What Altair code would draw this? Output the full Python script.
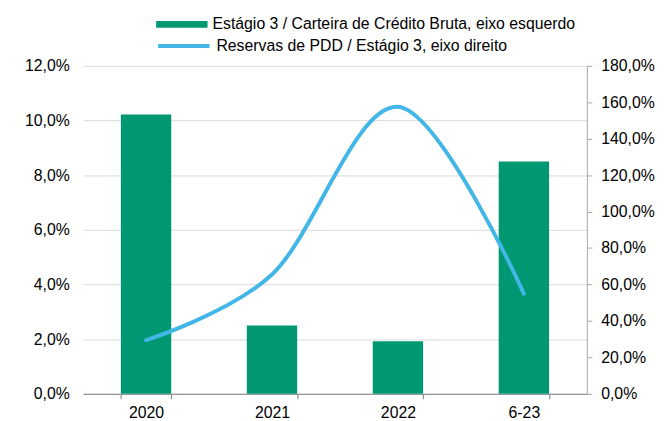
import altair as alt
import pandas as pd

categories = ["2020", "2021", "2022", "6-23"]
stage3_ratio = [10.22, 2.5, 1.92, 8.5]
pdd_coverage = [29.5, 65.5, 157.5, 55.0]

bar_label = "Estágio 3 / Carteira de Crédito Bruta, eixo esquerdo"
line_label = "Reservas de PDD / Estágio 3, eixo direito"

left_ticks = [0, 2, 4, 6, 8, 10, 12]
right_ticks = [0, 20, 40, 60, 80, 100, 120, 140, 160, 180]

df = pd.DataFrame({
    "cat": categories,
    "ratio": stage3_ratio,
    "cov": pdd_coverage,
    "bar_series": [bar_label] * len(categories),
    "line_series": [line_label] * len(categories),
})

FONT = "Liberation Sans"
FS = 16
GREEN = "#009873"
BLUE = "#42B6E6"
fmt = "replace(format(datum.value, '.1f'), '.', ',') + '%'"

x = alt.X(
    "cat:N", sort=categories, title=None,
    scale=alt.Scale(paddingInner=0.6, paddingOuter=0.3),
    axis=alt.Axis(labelAngle=0, tickBand="extent", domainColor="#808080",
                  tickColor="#808080", tickSize=5, labelPadding=6,
                  labelFontSize=FS, labelColor="#000000", labelFont=FONT,
                  grid=False),
)

bars = alt.Chart(df).mark_bar().encode(
    x=x,
    y=alt.Y("ratio:Q", title=None,
            scale=alt.Scale(domain=[0, 12], nice=False),
            axis=alt.Axis(values=left_ticks, labelExpr=fmt, grid=True,
                          gridColor="#D9D9D9", domain=False, ticks=False,
                          labelPadding=14, labelFontSize=FS, labelFont=FONT,
                          labelColor="#000000")),
    color=alt.Color("bar_series:N", scale=alt.Scale(range=[GREEN]),
                    legend=alt.Legend(orient="none", legendX=74, legendY=-68,
                                      title=None, padding=0,
                                      symbolType="M-1,-0.13H1V0.13H-1Z",
                                      symbolSize=2704, symbolStrokeWidth=0,
                                      symbolOpacity=1,
                                      labelFontSize=FS, labelFont=FONT,
                                      labelColor="#000000", labelOffset=5,
                                      labelLimit=500)),
)

line = alt.Chart(df).mark_line(interpolate="cardinal", strokeWidth=4,
                               strokeCap="round").encode(
    x=x,
    y=alt.Y("cov:Q", title=None,
            scale=alt.Scale(domain=[0, 180], nice=False),
            axis=alt.Axis(orient="right", values=right_ticks, labelExpr=fmt,
                          grid=False, domainColor="#A6A6A6",
                          tickColor="#A6A6A6", tickSize=5, labelPadding=9,
                          labelFontSize=FS, labelFont=FONT,
                          labelColor="#000000")),
    stroke=alt.Stroke("line_series:N", scale=alt.Scale(range=[BLUE]),
                      legend=alt.Legend(orient="none", legendX=74, legendY=-48,
                                        title=None, padding=0,
                                        symbolType="stroke", symbolSize=2704,
                                        symbolStrokeWidth=4,
                                        labelFontSize=FS, labelFont=FONT,
                                        labelColor="#000000", labelOffset=5,
                                        labelLimit=500)),
)

chart = alt.layer(bars, line).resolve_scale(
    y="independent", color="independent", stroke="independent"
).properties(
    width=510, height=332,
    padding={"left": 76, "top": 56, "right": 70, "bottom": 25},
    autosize=alt.AutoSizeParams(type="none"),
).configure(font=FONT).configure_view(stroke=None)

chart.save("out.html", embed_options={"renderer": "svg", "actions": False})
